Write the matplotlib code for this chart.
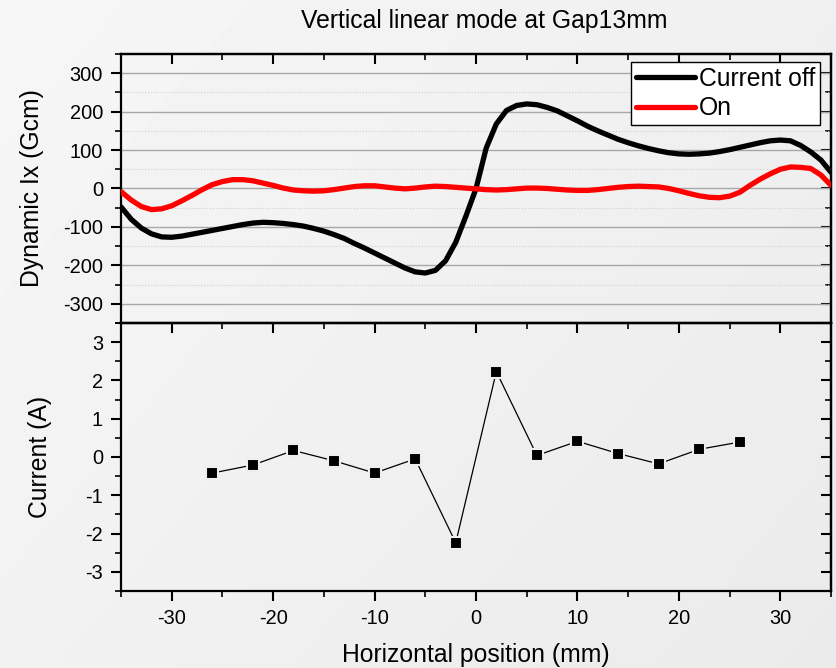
import numpy as np
import matplotlib
matplotlib.use("Agg")
import matplotlib.pyplot as plt
from matplotlib.ticker import MultipleLocator

plt.rcParams['font.family'] = ['Liberation Sans', 'DejaVu Sans']
plt.rcParams['axes.unicode_minus'] = False

# Dynamic Ix, 1 mm steps from -35 to 35
pos = list(range(-35, 36))
ix_off = [-48, -80, -103, -118, -126, -127, -124, -119, -114, -109,   # -35..-26
          -104, -99, -94, -90, -88, -89, -91, -94, -98, -104,         # -25..-16
          -111, -120, -130, -143, -155, -168, -181, -194, -207, -217, # -15..-6
          -220, -213, -188, -140, -72, 0, 105, 168, 203, 216,         # -5..4
          220, 218, 211, 202, 189, 176, 162, 150, 139, 128,           # 5..14
          119, 111, 104, 98, 93, 90, 89, 90, 92, 96,                  # 15..24
          101, 107, 113, 119, 124, 126, 124, 112, 95, 74,             # 25..34
          42]                                                         # 35
ix_on = [-8, -30, -47, -55, -53, -45, -32, -18, -3, 10,
         18, 23, 23, 20, 14, 8, 1, -4, -6, -7,
         -6, -3, 1, 5, 7, 7, 4, 1, -1, 1,
         4, 6, 5, 3, 1, -1, -3, -4, -3, -1,
         1, 1, 0, -2, -4, -5, -5, -3, 0, 3,
         5, 6, 5, 4, 0, -6, -13, -19, -23, -24,
         -20, -10, 8, 24, 38, 50, 56, 55, 52, 35,
         8]

# corrector current at each measured position
cur_pos = [-26, -22, -18, -14, -10, -6, -2, 2, 6, 10, 14, 18, 22, 26]
current = [-0.42, -0.21, 0.17, -0.10, -0.42, -0.05, -2.24, 2.23,
           0.04, 0.41, 0.09, -0.18, 0.20, 0.39]

bg = '#eeeeee'
fig = plt.figure(figsize=(8.37, 6.68), dpi=100)

# soft gray gradient behind everything
bgax = fig.add_axes([0, 0, 1, 1], zorder=-10)
gy, gx = np.mgrid[0:1:200j, 0:1:200j]
grad = 0.965 - 0.045 * (0.6 * gx + 0.4 * gy)
bgax.imshow(grad, cmap='gray', vmin=0, vmax=1, aspect='auto',
            extent=[0, 1, 0, 1], origin='upper')
bgax.axis('off')

ax1 = fig.add_axes([0.1446, 0.5165, 0.8483, 0.4027])
ax2 = fig.add_axes([0.1446, 0.1153, 0.8483, 0.4012])
for ax in (ax1, ax2):
    ax.patch.set_alpha(0)
    for s in ax.spines.values():
        s.set_linewidth(1.6)
    ax.set_xlim(-35, 35)
    ax.xaxis.set_major_locator(MultipleLocator(10))
    ax.xaxis.set_minor_locator(MultipleLocator(5))
    ax.tick_params(which='major', length=7, width=1.5, labelsize=14.4,
                   pad=6, direction='out')
    ax.tick_params(which='minor', length=4, width=1.2, direction='out')

# top panel
ax1.plot(pos, ix_off, color='black', lw=3.8, label='Current off', zorder=3,
         solid_joinstyle='round', solid_capstyle='round')
ax1.plot(pos, ix_on, color='red', lw=3.8, label='On', zorder=3,
         solid_joinstyle='round', solid_capstyle='round')
ax1.set_ylim(-350, 350)
ax1.yaxis.set_major_locator(MultipleLocator(100))
ax1.yaxis.set_minor_locator(MultipleLocator(50))
ax1.grid(axis='y', which='major', color='#a8a8a8', lw=1)
ax1.grid(axis='y', which='minor', color='#cfcfcf', lw=0.8, ls=':')
ax1.tick_params(axis='x', which='both', bottom=False, labelbottom=False)
ax1.set_ylabel('Dynamic Ix (Gcm)', fontsize=17.8)
ax1.yaxis.set_label_coords(-0.108, 0.5)
leg = ax1.legend(loc='upper right', bbox_to_anchor=(0.9845, 0.970),
                 borderaxespad=0, fontsize=17.8, frameon=True, fancybox=False,
                 handlelength=2.4, handletextpad=0.15,
                 labelspacing=0.22, borderpad=0.2)
leg.get_frame().set_edgecolor('black')
leg.get_frame().set_linewidth(1.0)
leg.get_frame().set_facecolor('white')
leg.get_frame().set_alpha(1)

# bottom panel
ax2.plot(cur_pos, current, color='black', lw=0.9, marker='s', ms=9,
         mfc='black', mec=bg, mew=1.5)
ax2.set_ylim(-3.5, 3.5)
ax2.yaxis.set_major_locator(MultipleLocator(1))
ax2.yaxis.set_minor_locator(MultipleLocator(0.5))
ax2.set_ylabel('Current (A)', fontsize=17.8)
ax2.yaxis.set_label_coords(-0.097, 0.5)
ax2.set_xlabel('Horizontal position (mm)', fontsize=17.8, labelpad=11)

# inward ticks on the top and right spines
for ax, ymaj, ymin in ((ax1, 100, 50), (ax2, 1, 0.5)):
    top = ax.secondary_xaxis('top')
    top.xaxis.set_major_locator(MultipleLocator(10))
    top.xaxis.set_minor_locator(MultipleLocator(5))
    top.tick_params(which='major', direction='in', length=7, width=1.5,
                    labeltop=False)
    top.tick_params(which='minor', direction='in', length=4, width=1.2)
    top.spines['top'].set_linewidth(1.6)
    right = ax.secondary_yaxis('right')
    right.yaxis.set_major_locator(MultipleLocator(ymaj))
    right.yaxis.set_minor_locator(MultipleLocator(ymin))
    right.tick_params(which='major', direction='in', length=7, width=1.5,
                      labelright=False)
    right.tick_params(which='minor', direction='in', length=4, width=1.2)
    right.spines['right'].set_linewidth(1.6)

fig.text(0.578, 0.968, 'Vertical linear mode at Gap13mm', ha='center',
         va='center', fontsize=17.8)

fig.savefig('out.png', dpi=100)
